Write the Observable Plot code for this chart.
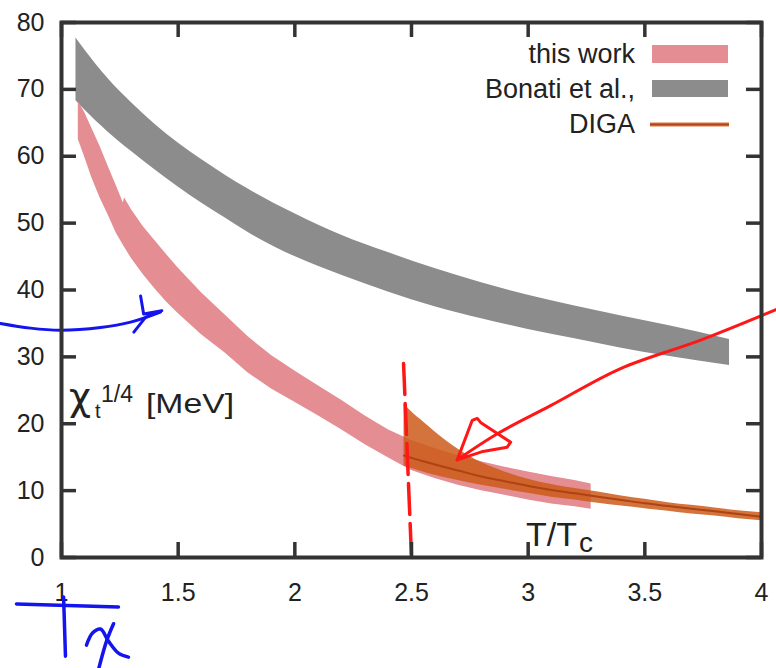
<!DOCTYPE html>
<html><head><meta charset="utf-8">
<script src="https://cdn.jsdelivr.net/npm/d3@7"></script>
<script src="https://cdn.jsdelivr.net/npm/@observablehq/plot@0.6"></script>
<style>html,body{margin:0;background:#fff;overflow:hidden}svg{display:block}</style>
</head><body><div id="chart"></div>
<script>
// ---- axes ----
const xTicks = [1, 1.5, 2, 2.5, 3, 3.5, 4];
const yTicks = [0, 10, 20, 30, 40, 50, 60, 70, 80];

// ---- this work (pink band) ----
const thisWorkT  = [1.072,1.10,1.13,1.165,1.20,1.235,1.265,1.27,1.30,1.35,1.40,1.45,1.50,1.60,1.70,1.80,1.90,2.00,2.10,2.20,2.30,2.40,2.50,2.60,2.70,2.80,2.90,3.00,3.10,3.20,3.27];
const thisWorkHi = [68.2,66.5,64.2,61.5,58.5,55.6,53.0,53.8,52.0,49.5,47.4,45.3,43.3,39.6,36.3,33.0,30.2,27.9,25.7,23.5,21.2,19.1,17.5,16.3,15.2,14.3,13.5,12.8,12.1,11.5,11.0];
const thisWorkLo = [62.5,59.8,56.8,53.8,51.2,48.5,46.7,46.4,44.7,42.3,40.2,38.2,36.5,33.3,30.6,27.6,25.2,23.2,21.2,19.1,16.9,14.9,13.0,11.8,10.8,10.0,9.3,8.6,8.0,7.6,7.2];

// ---- Bonati et al. (grey band) ----
const bonatiT  = [1.062,1.1,1.2,1.3,1.4,1.5,1.6,1.7,1.8,2.0,2.2,2.4,2.6,2.8,3.0,3.2,3.4,3.6,3.863];
const bonatiHi = [77.7,75.9,71.6,68.0,64.8,62.0,59.5,57.2,55.1,51.4,48.2,45.6,43.2,41.1,39.2,37.6,36.1,34.7,32.6];
const bonatiLo = [68.3,66.9,63.6,60.7,58.0,55.4,53.0,50.8,48.6,45.0,42.2,39.7,37.5,35.7,34.1,32.7,31.3,30.1,28.7];

// ---- DIGA ----
const digaT   = [2.468,2.5,2.55,2.6,2.7,2.8,2.9,3.0,3.1,3.2,3.3,3.4,3.5,3.6,3.7,3.8,3.9,4.0];
const digaHi  = [23.0,21.8,20.3,18.8,16.2,14.2,12.8,11.7,10.9,10.3,9.8,9.2,8.7,8.2,7.8,7.4,7.0,6.7];
const digaMid = [15.25,14.9,14.4,13.9,13.0,12.1,11.4,10.7,10.1,9.6,9.1,8.6,8.1,7.7,7.3,6.9,6.5,6.1];
const digaLo  = [13.7,13.3,12.8,12.3,11.5,10.8,10.2,9.6,9.0,8.6,8.1,7.7,7.3,6.9,6.5,6.2,5.8,5.5];

const legendLabels = ["this work", "Bonati et al.,", "DIGA"];

// ---- hand-drawn annotations (data coordinates) ----
const redDashT = [2.466, 2.500];
const redDashY = [29.0, 0.1];
const redShaftT = [4.065, 3.739, 3.396, 3.096, 2.868, 2.696];
const redShaftY = [37.1, 32.5, 28.25, 22.7, 18.5, 14.6];
const redHeadT = [2.696, 2.760, 2.782, 2.796, 2.925, 2.910, 2.800, 2.696];
const redHeadY = [14.6, 20.5, 20.8, 20.2, 17.25, 16.5, 15.8, 14.6];
const blueCurveT = [0.7385, 0.867, 0.996, 1.167, 1.296, 1.424];
const blueCurveY = [35.0, 34.3, 34.0, 34.4, 35.2, 36.7];
const blueHeadT = [1.339, 1.352, 1.43, 1.36, 1.31];
const blueHeadY = [39.1, 36.4, 36.9, 35.9, 33.7];
const blueTbarT = [0.807, 1.244];
const blueTbarY = [-6.94, -7.39];
const blueTstemT = [1.009, 1.017];
const blueTstemY = [-5.9, -14.75];
const blueChiAT = [1.107, 1.133, 1.167, 1.201, 1.244, 1.287];
const blueChiAY = [-13.1, -11.3, -10.7, -12.5, -14.3, -14.9];
const blueChiBT = [1.223, 1.193, 1.159];
const blueChiBY = [-9.9, -12.5, -16.7];

const zip = (xs, ...ys) => xs.map((x, i) => [x, ...ys.map(a => a[i])]);
const pts = (xs, ys) => xs.map((x, i) => ({x, y: ys[i]}));

const FONT = "'Liberation Sans', Arial, Helvetica, sans-serif";
const W = 776, H = 668, ML = 61, MR = 15, MT = 22, MB = 111;
const PW = W - ML - MR, PH = H - MT - MB, TK = 15;

const pinkAvg = "#e48d92", greyAvg = "#8c8c8c";
const digaFill = "#cc5a1a", digaLine = "#ad4312";
const red = "#ff1616", blue = "#1414ee";
const axisCol = "#333333";

const hand = (xs, ys, color, extra = {}) =>
  Plot.line(pts(xs, ys), {x: "x", y: "y", stroke: color, strokeWidth: 3, curve: "catmull-rom", strokeLinecap: "round", strokeLinejoin: "round", ...extra});

const plot = Plot.plot({
  width: W, height: H,
  marginLeft: ML, marginRight: MR, marginTop: MT, marginBottom: MB,
  x: {domain: [1, 4]},
  y: {domain: [0, 80]},
  style: {background: "white"},
  marks: [
    Plot.areaY(zip(bonatiT, bonatiLo, bonatiHi), {x: d => d[0], y1: d => d[1], y2: d => d[2], fill: greyAvg, curve: "monotone-x"}),
    Plot.areaY(zip(thisWorkT, thisWorkLo, thisWorkHi), {x: d => d[0], y1: d => d[1], y2: d => d[2], fill: pinkAvg, curve: "linear"}),
    Plot.areaY(zip(digaT, digaLo, digaHi), {x: d => d[0], y1: d => d[1], y2: d => d[2], fill: digaFill, fillOpacity: 0.85, curve: "monotone-x"}),
    Plot.line(zip(digaT, digaMid), {x: d => d[0], y: d => d[1], stroke: digaLine, strokeWidth: 2, curve: "monotone-x"}),
    Plot.axisY({ticks: yTicks, tickSize: 0, tickPadding: 17, fontSize: 25, fontFamily: FONT, fill: "#222", label: null, tickFormat: d => `${d}`}),
    Plot.axisX({ticks: xTicks, tickSize: 0, tickPadding: 26, fontSize: 25, fontFamily: FONT, fill: "#222", label: null, tickFormat: d => `${d}`}),
    // annotations
    Plot.line(pts(redDashT, redDashY), {x: "x", y: "y", stroke: red, strokeWidth: 3.5, strokeDasharray: "31,9"}),
    hand(redShaftT, redShaftY, red),
    hand(redHeadT, redHeadY, red, {curve: "linear"}),
    hand(blueCurveT, blueCurveY, blue),
    hand(blueHeadT, blueHeadY, blue, {curve: "linear"}),
    hand(blueTbarT, blueTbarY, blue, {strokeWidth: 3.5}),
    hand(blueTstemT, blueTstemY, blue, {strokeWidth: 3.5}),
    hand(blueChiAT, blueChiAY, blue, {strokeWidth: 3.5}),
    hand(blueChiBT, blueChiBY, blue, {strokeWidth: 3.5}),
    // frame and mirrored inward ticks (gnuplot style), drawn last
    Plot.tickY(yTicks, {y: d => d, insetRight: PW - TK, stroke: axisCol, strokeWidth: 3.5}),
    Plot.tickY(yTicks, {y: d => d, insetLeft: PW - TK, stroke: axisCol, strokeWidth: 3.5}),
    Plot.tickX(xTicks, {x: d => d, insetTop: PH - TK, stroke: axisCol, strokeWidth: 3.5}),
    Plot.tickX(xTicks, {x: d => d, insetBottom: PH - TK, stroke: axisCol, strokeWidth: 3.5}),
    Plot.frame({stroke: axisCol, strokeWidth: 4})
  ]
});

const svg = d3.select(plot);

// legend
const lg = svg.append("g").attr("font-family", FONT).attr("fill", "#222").attr("font-size", 27).attr("text-anchor", "end");
const rows = [63.3, 98, 133];
legendLabels.forEach((t, i) => lg.append("text").attr("x", 635).attr("y", rows[i]).text(t));
lg.append("rect").attr("x", 652).attr("y", 45).attr("width", 76).attr("height", 18).attr("fill", pinkAvg);
lg.append("rect").attr("x", 652).attr("y", 80).attr("width", 76).attr("height", 17).attr("fill", greyAvg);
lg.append("line").attr("x1", 650).attr("x2", 729).attr("y1", 124.5).attr("y2", 124.5).attr("stroke", digaFill).attr("stroke-opacity", 0.85).attr("stroke-width", 4);
lg.append("line").attr("x1", 650).attr("x2", 729).attr("y1", 124.5).attr("y2", 124.5).attr("stroke", digaLine).attr("stroke-width", 1.6);

// axis titles placed inside the frame
const tg = svg.append("g").attr("font-family", FONT).attr("fill", "#222").attr("text-anchor", "start");
tg.append("text").attr("x", 69).attr("y", 410).attr("font-size", 38).attr("font-family", "'DejaVu Sans', sans-serif").text("χ");
tg.append("text").attr("x", 95).attr("y", 418).attr("font-size", 20).text("t");
tg.append("text").attr("x", 101).attr("y", 402).attr("font-size", 23).text("1/4");
tg.append("text").attr("x", 146).attr("y", 413).attr("font-size", 27.5).attr("textLength", 88).attr("lengthAdjust", "spacingAndGlyphs").text("[MeV]");
tg.append("text").attr("x", 526).attr("y", 545.5).attr("font-size", 34).text("T/T");
tg.append("text").attr("x", 579).attr("y", 552).attr("font-size", 28).text("c");

document.getElementById("chart").appendChild(plot);
</script></body></html>
